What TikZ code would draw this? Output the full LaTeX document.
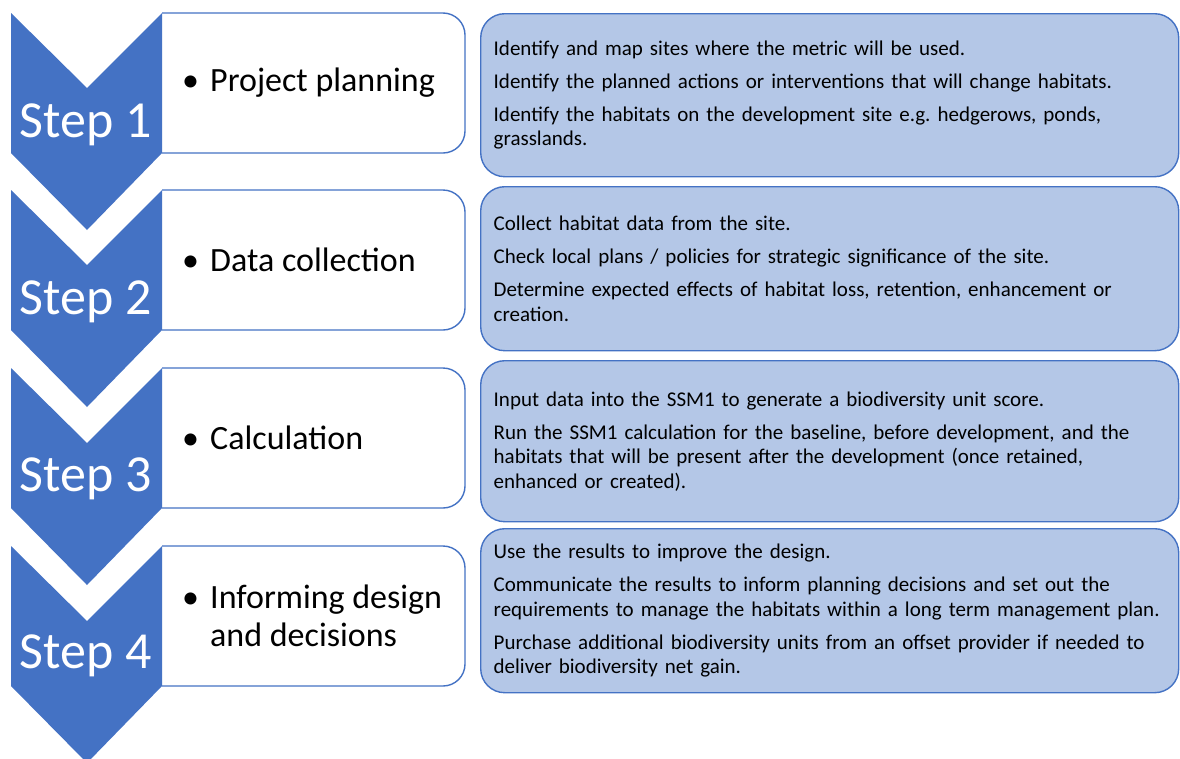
\documentclass[tikz,border=0pt]{standalone}
\usepackage{fontspec}
\setmainfont{Carlito}
\definecolor{stepblue}{HTML}{4472C4}
\definecolor{noteblue}{HTML}{B4C7E7}
\frenchspacing

\begin{document}
\begin{tikzpicture}[x=1pt, y=-1pt,
		stepbox/.style={draw=stepblue, line width=1.4pt, fill=white, rounded corners=22pt},
		chevron/.style={fill=stepblue},
		steplabel/.style={text=white, anchor=base, font=\fontsize{52}{60}\selectfont},
		itemtext/.style={anchor=west, align=left, inner sep=0pt, font=\fontsize{34}{38}\selectfont},
		notebox/.style={draw=stepblue, line width=1.4pt, fill=noteblue, rounded corners=24pt, anchor=north west, minimum width=698pt, inner xsep=13pt, inner ysep=0pt, text width=672pt, align=left, font=\fontsize{21}{24.5}\selectfont}]
				\useasboundingbox (0,0) rectangle (1180,758);
				% left boxes
				\draw[stepbox] (162,13) -- (465,13) -- (465,153) -- (162,153);
				\draw[stepbox] (162,190) -- (465,190) -- (465,330) -- (162,330);
				\draw[stepbox] (162,368) -- (465,368) -- (465,508) -- (162,508);
				\draw[stepbox] (162,546) -- (465,546) -- (465,686) -- (162,686);
				% chevrons
				\fill[chevron] (11,13) -- (87,88) -- (162,13) -- (162,153) -- (87,230) -- (11,153) -- cycle;
				\fill[chevron] (11,190) -- (87,265) -- (162,190) -- (162,330) -- (87,407) -- (11,330) -- cycle;
				\fill[chevron] (11,368) -- (87,443) -- (162,368) -- (162,508) -- (87,585) -- (11,508) -- cycle;
				\fill[chevron] (11,546) -- (87,621) -- (162,546) -- (162,686) -- (87,763) -- (11,686) -- cycle;
				\node[steplabel] (S1) at (86,137) {Step 1};
				\node[steplabel] (S2) at (86,314) {Step 2};
				\node[steplabel] (S3) at (86,491) {Step 3};
				\node[steplabel] (S4) at (86,668) {Step 4};
				\node[itemtext] (T1) at (182,83) {\makebox[28pt][l]{\textbullet}Project planning};
				\node[itemtext] (T2) at (182,260) {\makebox[28pt][l]{\textbullet}Data collection};
				\node[itemtext] (T3) at (182,438) {\makebox[28pt][l]{\textbullet}Calculation};
				\node[itemtext] (T4) at (182,616) {\makebox[28pt][l]{\textbullet}Informing design\\\hspace*{28pt}and decisions};
				% notes
				\node[notebox, minimum height=163pt] (N1) at (480,13) {Identify and map sites where the metric will be used.\\[8.5pt]
					Identify the planned actions or interventions that will change habitats.\\[8.5pt]
					Identify the habitats on the development site e.g. hedgerows, ponds,\\
					grasslands.};
				\node[notebox, minimum height=164pt] (N2) at (480,186) {Collect habitat data from the site.\\[8.5pt]
					Check local plans / policies for strategic significance of the site.\\[8.5pt]
					Determine expected effects of habitat loss, retention, enhancement or\\
					creation.};
				\node[notebox, minimum height=161pt] (N3) at (480,360) {Input data into the SSM1 to generate a biodiversity unit score.\\[8.5pt]
					Run the SSM1 calculation for the baseline, before development, and the\\
					habitats that will be present after the development (once retained,\\
					enhanced or created).};
				\node[notebox, minimum height=164pt] (N4) at (480,528) {Use the results to improve the design.\\[8.5pt]
					Communicate the results to inform planning decisions and set out the\\
					requirements to manage the habitats within a long term management plan.\\[8.5pt]
					Purchase additional biodiversity units from an offset provider if needed to\\
					deliver biodiversity net gain.};
			\end{tikzpicture}
\end{document}
